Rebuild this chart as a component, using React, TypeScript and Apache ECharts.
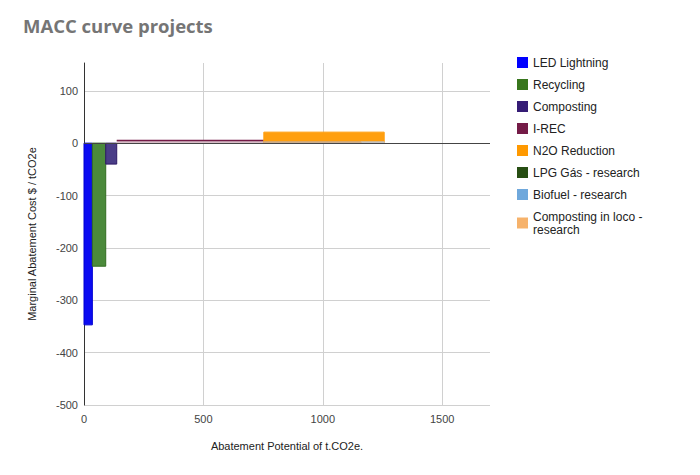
import React, { useEffect, useRef } from "react";
import * as echarts from "echarts";

const projects = [
  "LED Lightning",
  "Recycling",
  "Composting",
  "I-REC",
  "N2O Reduction",
  "LPG Gás - research",
  "Biofuel - research",
  "Composting in loco - research",
];
// abatement potential range (t.CO2e) for each project
const potentialStart = [0, 35, 91, 137, 753, 1257, 1160, 753];
const potentialEnd = [35, 91, 137, 753, 1257, 1257, 1257, 1160];
// marginal abatement cost ($ / tCO2e)
const cost = [-347, -235, -40, 5, 21, 0, 2.5, 2.5];

const legendColors = ["#0000ff", "#38761d", "#351c75", "#741b47", "#ff9900", "#274e13", "#6fa8dc", "#f6b26b"];
const fillColors = ["#0b0bf2", "#4b8a3b", "#4a3d87", "#d6bcc6", "#ff9f0f", "#274e13", "#c2c0c0", "#c9ab8c"];
const strokeColors = ["#0000d0", "#336e22", "#2e1a66", "#741b47", "#ff9f0f", "#274e13", "#c2c0c0", "#c9ab8c"];

const xTicks = [0, 500, 1000, 1500];
const yTicks = [-500, -400, -300, -200, -100, 0, 100];

export default function App() {
  const ref = useRef<HTMLDivElement>(null);
  useEffect(() => {
    if (!ref.current) return;
    const chart = echarts.init(ref.current, undefined, { renderer: "svg" });
    const font = "Liberation Sans, Arial, sans-serif";
    const series: any[] = projects.map((name, i) => ({
      type: "custom",
      name,
      itemStyle: { color: legendColors[i] },
      data: [[potentialStart[i], potentialEnd[i], cost[i]]],
      renderItem: (params: any, api: any) => {
        const s = api.value(0);
        const e = api.value(1);
        const v = api.value(2);
        const p0 = api.coord([s, 0]);
        const p1 = api.coord([e, v]);
        const x = Math.min(p0[0], p1[0]);
        const y = Math.min(p0[1], p1[1]);
        const w = Math.abs(p1[0] - p0[0]);
        const h = Math.abs(p1[1] - p0[1]);
        if (w <= 0 || h <= 0) return null;
        if (i === 3) {
          return {
            type: "group",
            children: [
              { type: "rect", shape: { x, y, width: w, height: h }, style: { fill: fillColors[i] } },
              {
                type: "line",
                shape: { x1: x, y1: y, x2: x + w, y2: y },
                style: { stroke: strokeColors[i], lineWidth: 1.5 },
              },
            ],
          };
        }
        return {
          type: "rect",
          shape: { x, y, width: w, height: h },
          style: { fill: fillColors[i], stroke: strokeColors[i], lineWidth: 1 },
        };
      },
    }));
    series.push({
      type: "line",
      name: "zero",
      data: [],
      silent: true,
      markLine: {
        silent: true,
        symbol: "none",
        label: { show: false },
        lineStyle: { color: "#444", width: 1, type: "solid" },
        data: [{ yAxis: 0 }],
      },
    });

    chart.setOption({
      animation: false,
      textStyle: { fontFamily: font },
      title: {
        text: "MACC curve projects",
        left: 10,
        top: 3,
        textStyle: { fontFamily: "Open Sans", fontSize: 18.5, fontWeight: "bold", color: "#757575" },
      },
      legend: {
        data: projects,
        orient: "vertical",
        left: 504,
        top: 43,
        icon: "rect",
        itemWidth: 11,
        itemHeight: 11,
        itemGap: 9,
        textStyle: { fontFamily: font, fontSize: 12, color: "#222", lineHeight: 13 },
        formatter: (n: string) => (n === "Composting in loco - research" ? "Composting in loco -\nresearch" : n),
      },
      grid: { left: 76, right: 210, top: 55, bottom: 70 },
      xAxis: {
        type: "value",
        min: 0,
        max: 1700,
        interval: 500,
        name: "Abatement Potential of t.CO2e.",
        nameLocation: "middle",
        nameGap: 35,
        nameTextStyle: { fontSize: 11, color: "#222", fontFamily: font },
        axisLine: { show: false },
        axisTick: { show: false },
        axisLabel: {
          fontSize: 11,
          color: "#444",
          margin: 8,
          showMaxLabel: false,
          formatter: (v: number) => (xTicks.includes(v) ? String(v) : ""),
        },
        splitLine: { show: true, showMaxLine: false, lineStyle: { color: "#d0d0d0" } },
      },
      yAxis: {
        type: "value",
        min: -500,
        max: 153,
        interval: 100,
        name: "Marginal Abatement Cost $ / tCO2e",
        nameLocation: "middle",
        nameGap: 47,
        nameTextStyle: { fontSize: 11, color: "#222", fontFamily: font },
        axisLine: { show: true, onZero: false, lineStyle: { color: "#333" } },
        axisTick: { show: false },
        axisLabel: {
          fontSize: 11,
          color: "#444",
          margin: 6,
          showMaxLabel: false,
          formatter: (v: number) => (yTicks.includes(v) ? String(v) : ""),
        },
        splitLine: { show: true, showMaxLine: false, lineStyle: { color: "#d0d0d0" } },
      },
      series,
    });
    return () => chart.dispose();
  }, []);
  return <div ref={ref} style={{ width: 692, height: 467 }} />;
}
